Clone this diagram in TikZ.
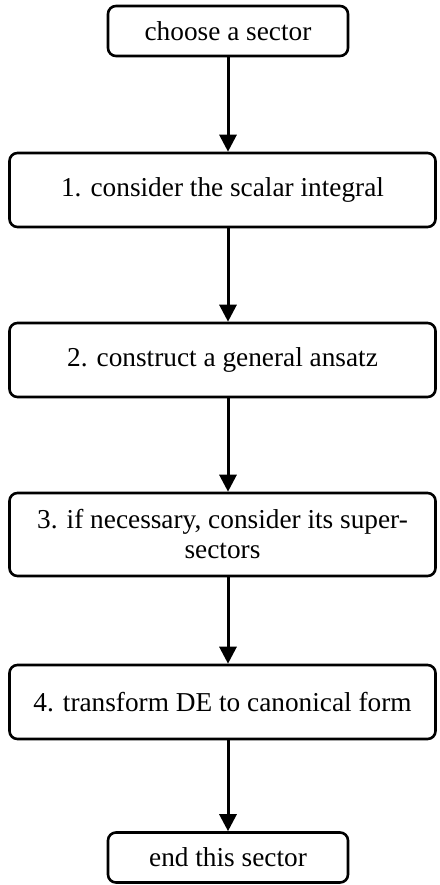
\documentclass[tikz,border=0pt]{standalone}
\usepackage{fontspec}
\setmainfont{Liberation Serif}
\usetikzlibrary{arrows.meta}

\begin{document}
\begin{tikzpicture}
    [
    x=1pt, y=-1pt,
    stepbox/.style={rectangle,rounded corners=8pt,draw,line width=2.6pt,minimum width=426pt,minimum height=74pt,inner sep=0pt,align=center,font=\fontsize{27.3}{30}\selectfont},
    endbox/.style={stepbox,minimum width=240pt,minimum height=50pt},
    edge/.style={-{Triangle[width=17pt,length=17pt]},line width=3pt}
    ]
\useasboundingbox (0,0) rectangle (439,885);
\node[endbox] (start) at (228,31) {choose a sector};
\node[stepbox] (s1) at (222.5,190) {1. consider the scalar integral};
\node[stepbox] (s2) at (222.5,360) {2. construct a general ansatz};
\node[stepbox,minimum height=83pt] (s3) at (222.5,534.5) {3. if necessary, consider its super-\\sectors};
\node[stepbox] (s4) at (222.5,702) {4. transform DE to canonical form};
\node[endbox] (stop) at (228,857.5) {end this sector};
\draw[edge] (start) -- (start |- s1.north);
\draw[edge] (s1.south -| start) -- (start |- s2.north);
\draw[edge] (s2.south -| start) -- (start |- s3.north);
\draw[edge] (s3.south -| start) -- (start |- s4.north);
\draw[edge] (s4.south -| start) -- (stop);
\end{tikzpicture}
\end{document}
